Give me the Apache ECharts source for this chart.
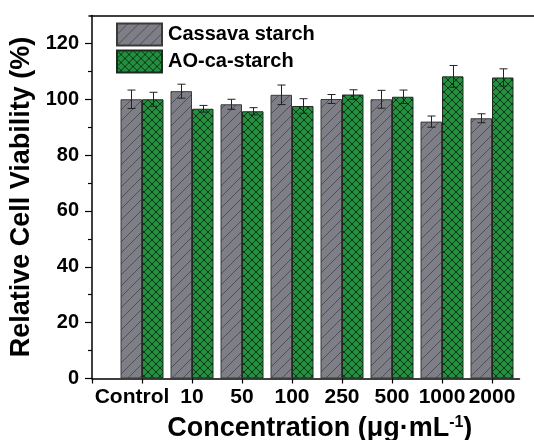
<!DOCTYPE html>
<html>
<head>
<meta charset="utf-8">
<script src="https://cdn.jsdelivr.net/npm/echarts@6/dist/echarts.min.js"></script>
<style>html,body{margin:0;padding:0;background:#fff}#chart{width:534px;height:440px}</style>
</head>
<body>
<div id="chart"></div>
<script>
const categories = ['Control', '10', '50', '100', '250', '500', '1000', '2000'];
const cassavaValues = [100.0, 102.9, 98.2, 101.6, 100.1, 100.0, 92.0, 93.2];
const cassavaErrors = [3.3, 2.5, 1.8, 3.5, 1.6, 3.2, 2.0, 1.6];
const aoValues = [100.0, 96.6, 95.7, 97.6, 101.7, 100.9, 108.2, 107.8];
const aoErrors = [2.5, 1.2, 1.3, 2.6, 1.7, 2.4, 3.9, 3.1];
const yMajorTicks = [0, 20, 40, 60, 80, 100, 120];
const yMinorTicks = [10, 30, 50, 70, 90, 110];
const seriesNames = ['Cassava starch', 'AO-ca-starch'];

const FONT = '"Liberation Sans", Arial, sans-serif';

function makePattern(bg, line, size, cross) {
  const c = document.createElement('canvas');
  c.width = size; c.height = size;
  const g = c.getContext('2d');
  g.fillStyle = bg; g.fillRect(0, 0, size, size);
  g.strokeStyle = line; g.lineWidth = 1;
  g.beginPath();
  g.moveTo(0, size); g.lineTo(size, 0);
  g.moveTo(-size, size); g.lineTo(size, -size);
  g.moveTo(0, 2 * size); g.lineTo(2 * size, 0);
  if (cross) {
    g.moveTo(0, 0); g.lineTo(size, size);
    g.moveTo(-size, 0); g.lineTo(size, 2 * size);
    g.moveTo(0, -size); g.lineTo(2 * size, size);
  }
  g.stroke();
  return { image: c, repeat: 'repeat' };
}
const grayPattern = makePattern('#7e7e86', '#4e4e55', 11, false);
const greenPattern = makePattern('#22903f', '#0b3516', 8, true);

const BAR_W = 21.5;
function errorSeries(values, errors, offset) {
  return {
    type: 'custom',
    xAxisIndex: 0, yAxisIndex: 0,
    z: 5,
    silent: true,
    data: values.map((v, i) => [i, v, errors[i]]),
    renderItem: function (params, api) {
      const x = api.value(0), y = api.value(1), e = api.value(2);
      const t = api.coord([x, y + e]);
      const b = api.coord([x, y - e]);
      const cx = Math.round(t[0] + offset) + 0.5;
      const hw = 4;
      const st = { stroke: '#222', lineWidth: 1 };
      return {
        type: 'group',
        children: [
          { type: 'line', shape: { x1: cx, y1: t[1], x2: cx, y2: b[1] }, style: st },
          { type: 'line', shape: { x1: cx - hw, y1: t[1], x2: cx + hw, y2: t[1] }, style: st },
          { type: 'line', shape: { x1: cx - hw, y1: b[1], x2: cx + hw, y2: b[1] }, style: st }
        ]
      };
    }
  };
}

const chart = echarts.init(document.getElementById('chart'), null, { renderer: 'canvas' });
chart.setOption({
  animation: false,
  backgroundColor: '#fff',
  textStyle: { fontFamily: FONT },
  grid: [
    { left: 92, right: 14.5, top: 15.5, bottom: 61.5, containLabel: false, outerBoundsMode: 'none' },
    { left: 89, right: 0, top: 15.5, bottom: 61.5, containLabel: false, outerBoundsMode: 'none' }
  ],
  legend: {
    data: seriesNames,
    orient: 'vertical',
    left: 116, top: 22.5,
    padding: 0,
    itemWidth: 45, itemHeight: 22, itemGap: 3,
    icon: 'rect',
    textStyle: { fontSize: 20, fontWeight: 'bold', color: '#000', fontFamily: FONT, padding: [0, 0, 0, 1] }
  },
  xAxis: [
    {
      type: 'value', gridIndex: 0,
      min: -1, max: 7.55,
      position: 'bottom',
      splitLine: { show: false },
      axisLine: { show: true, onZero: false, lineStyle: { color: '#000', width: 1.5 } },
      axisTick: { show: true, length: 5, lineStyle: { color: '#000', width: 1.2 }, customValues: [-1, 0, 1, 2, 3, 4, 5, 6, 7] },
      axisLabel: {
        show: true, margin: 8,
        customValues: [0, 1, 2, 3, 4, 5, 6, 7],
        fontSize: 21, fontWeight: 'bold', color: '#000', fontFamily: FONT,
        formatter: function (v) {
          const i = Math.round(v);
          if (i === 0) return '{c|' + categories[0] + '}';
          return categories[i] || '';
        },
        rich: { c: { fontSize: 21, fontWeight: 'bold', color: '#000', fontFamily: FONT, padding: [0, 20, 0, 0] } }
      },
      name: 'Concentration (μg·mL{s|-1})',
      nameLocation: 'middle',
      nameGap: 36,
      nameTextStyle: {
        fontSize: 27, fontWeight: 'bold', color: '#000', fontFamily: FONT, padding: [0, 0, 0, 28],
        rich: { s: { fontSize: 16, fontWeight: 'bold', color: '#000', fontFamily: FONT, padding: [0, 0, 13, 0] } }
      }
    },
    {
      type: 'value', gridIndex: 1, position: 'top',
      min: 0, max: 1,
      axisLine: { show: true, onZero: false, lineStyle: { color: '#000', width: 1.5 } },
      axisTick: { show: false }, axisLabel: { show: false }, splitLine: { show: false }
    }
  ],
  yAxis: [
    {
      type: 'value', gridIndex: 0,
      min: 0, max: 130,
      position: 'left',
      splitLine: { show: false },
      axisLine: { show: true, onZero: false, lineStyle: { color: '#000', width: 1.5 } },
      axisTick: { show: true, length: 7, lineStyle: { color: '#000', width: 1.2 }, customValues: yMajorTicks },
      axisLabel: { show: true, margin: 13, customValues: yMajorTicks, fontSize: 20, fontWeight: 'bold', color: '#000', fontFamily: FONT },
      name: 'Relative Cell Viability (%)',
      nameLocation: 'middle',
      nameGap: 53,
      nameTextStyle: { fontSize: 27, fontWeight: 'bold', color: '#000', fontFamily: FONT }
    },
    {
      type: 'value', gridIndex: 0,
      min: 0, max: 130, position: 'left',
      splitLine: { show: false },
      axisLine: { show: false, onZero: false },
      axisTick: { show: true, length: 4, lineStyle: { color: '#000', width: 1.2 }, customValues: yMinorTicks },
      axisLabel: { show: false }
    },
    {
      type: 'value', gridIndex: 1, show: false, min: 0, max: 1
    }
  ],
  series: [
    {
      name: seriesNames[0], type: 'bar', xAxisIndex: 0, yAxisIndex: 0,
      barWidth: BAR_W, barGap: '0%',
      itemStyle: { color: grayPattern, borderColor: '#3a3a3a', borderWidth: 1 },
      data: cassavaValues.map((v, i) => [i, v])
    },
    {
      name: seriesNames[1], type: 'bar', xAxisIndex: 0, yAxisIndex: 0,
      barWidth: BAR_W, barGap: '0%',
      itemStyle: { color: greenPattern, borderColor: '#1e2a20', borderWidth: 1 },
      data: aoValues.map((v, i) => [i, v])
    },
    errorSeries(cassavaValues, cassavaErrors, -BAR_W / 2),
    errorSeries(aoValues, aoErrors, BAR_W / 2)
  ]
});
</script>
</body>
</html>
